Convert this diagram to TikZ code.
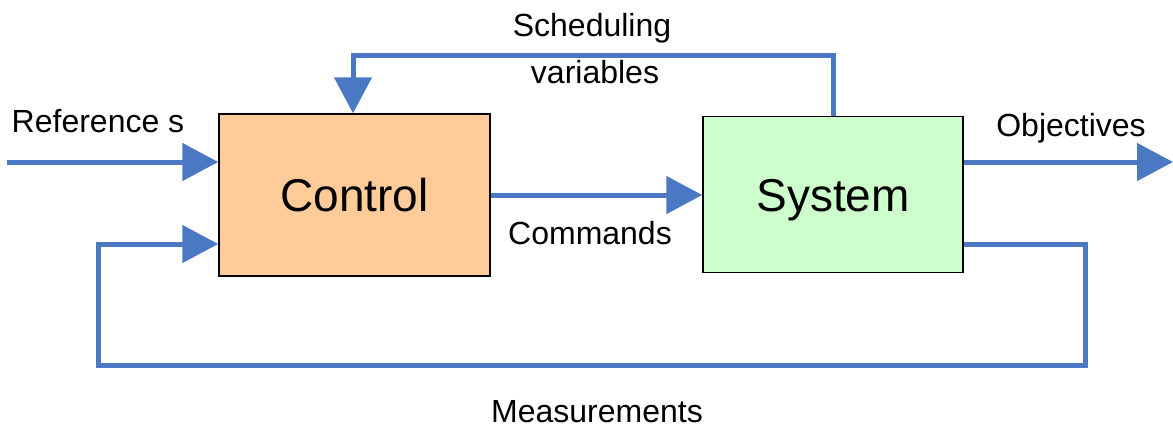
\documentclass[tikz,border=0pt]{standalone}
\usepackage{fontspec}
\setmainfont{Liberation Sans}
\usetikzlibrary{arrows.meta}
\definecolor{flowblue}{HTML}{4A78C2}
\definecolor{ctrlfill}{HTML}{FFCC99}
\definecolor{sysfill}{HTML}{CCFFCC}
\tikzset{
  block/.style={draw=black, line width=1.5pt, inner sep=0pt, text height=33pt, text depth=0pt, font=\fontsize{46}{52}\selectfont},
  flow/.style={draw=flowblue, line width=5pt, -{Triangle[length=36pt,width=37pt]}},
  lbl/.style={font=\fontsize{32}{38}\selectfont, inner sep=0pt}
}
\begin{document}
\begin{tikzpicture}[x=1pt,y=-1pt]
\useasboundingbox (0,0) rectangle (1173,434);
\node[block, fill=ctrlfill, minimum width=271pt, minimum height=162pt] (ctrl) at (354.5,195) {Control};
\node[block, fill=sysfill, minimum width=260pt, minimum height=156pt] (sys) at (833,194.5) {System};
% reference input
\coordinate (refin) at (7,162);
\draw[flow] (refin) -- (ctrl.west |- refin);
\node[lbl] (reflbl) at (98,121) {Reference s};
% commands
\coordinate (cmdy) at (0,195);
\draw[flow] (ctrl.east |- cmdy) -- (sys.west |- cmdy);
\node[lbl] (cmdlbl) at (590,233) {Commands};
% objectives
\coordinate (objy) at (0,162);
\coordinate (objend) at (1173,162);
\draw[flow] (sys.east |- objy) -- (objend);
\node[lbl] (objlbl) at (1071,128) {Objectives};
% scheduling
\coordinate (schedx) at (833,0);
\coordinate (schedtop) at (833,55);
\coordinate (schedl) at (353,55);
\draw[flow] (sys.north -| schedx) -- (schedtop) -- (schedl) -- (ctrl.north -| schedl);
\node[lbl] (schedlbl1) at (592,28) {Scheduling};
\node[lbl] (schedlbl2) at (595,72) {variables};
% measurements
\coordinate (measy) at (0,244);
\coordinate (measr) at (1085,244);
\coordinate (measbr) at (1085,365);
\coordinate (measbl) at (98,365);
\coordinate (measl) at (98,244);
\draw[flow] (sys.east |- measy) -- (measr) -- (measbr) -- (measbl) -- (measl) -- (ctrl.west |- measy);
\node[lbl] (measlbl) at (597,412) {Measurements};
\end{tikzpicture}
\end{document}
